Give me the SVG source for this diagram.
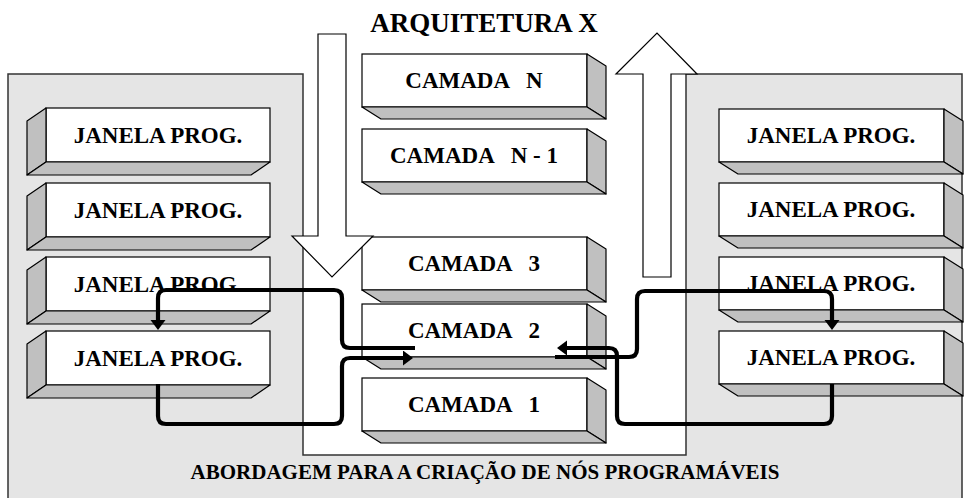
<svg xmlns="http://www.w3.org/2000/svg" xmlns:xlink="http://www.w3.org/1999/xlink" width="972" height="498" viewBox="0 0 972 498">
<style>
.t{font-family:"Liberation Serif","Times New Roman",serif;font-weight:bold;fill:#000;text-anchor:middle;white-space:pre}
.lbl{font-size:23px}
.face{fill:#fff;stroke:#000;stroke-width:1.2}
.shade{fill:#c0c0c0;stroke:#000;stroke-width:1.2;stroke-linejoin:round}
.big{fill:#fff;stroke:#000;stroke-width:1.2}
.con{fill:none;stroke:#000;stroke-width:4.2;stroke-linejoin:round}
</style>
<defs>
<g id="rbox">
<rect class="face" x="0" y="0" width="225" height="53"/>
<path class="shade" d="M225,0 L244,12 L244,65 L225,53 Z"/>
<path class="shade" d="M0,53 L225,53 L244,65 L19,65 Z"/>
</g>
<g id="lbox">
<rect class="face" x="0" y="0" width="224" height="54"/>
<path class="shade" d="M0,0 L-19,13 L-19,67 L0,54 Z"/>
<path class="shade" d="M0,54 L224,54 L205,67 L-19,67 Z"/>
</g>
<marker id="ah" markerUnits="userSpaceOnUse" markerWidth="12" markerHeight="16" refX="4" refY="7.5" orient="auto">
<path d="M0,0 L10,7.5 L0,15 Z" fill="#000"/>
</marker>
</defs>

<g id="background">
<path d="M8,74 H303 V455 H686 V74 H962 V502 H8 Z" fill="#e5e5e5" stroke="#333" stroke-width="1.5"/>
</g>

<g id="title"><text class="t" x="484" y="32" font-size="27">ARQUITETURA X</text></g>

<g id="janela-l1" transform="translate(46,108)"><use xlink:href="#lbox"/><text class="t lbl" x="112" y="34.5">JANELA PROG.</text></g>
<g id="janela-l2" transform="translate(46,183)"><use xlink:href="#lbox"/><text class="t lbl" x="112" y="34.5">JANELA PROG.</text></g>
<g id="janela-l3" transform="translate(46,257)"><use xlink:href="#lbox"/><text class="t lbl" x="112" y="34.5">JANELA PROG.</text></g>
<g id="janela-l4" transform="translate(46,331)"><use xlink:href="#lbox"/><text class="t lbl" x="112" y="34.5">JANELA PROG.</text></g>

<g id="janela-r1" transform="translate(719,109)"><use xlink:href="#rbox"/><text class="t lbl" x="112" y="33.5">JANELA PROG.</text></g>
<g id="janela-r2" transform="translate(719,183)"><use xlink:href="#rbox"/><text class="t lbl" x="112" y="33.5">JANELA PROG.</text></g>
<g id="janela-r3" transform="translate(719,257)"><use xlink:href="#rbox"/><text class="t lbl" x="112" y="33.5">JANELA PROG.</text></g>
<g id="janela-r4" transform="translate(719,331)"><use xlink:href="#rbox"/><text class="t lbl" x="112" y="33.5">JANELA PROG.</text></g>

<g id="camada-n" transform="translate(362,54)"><use xlink:href="#rbox"/><text class="t lbl" x="112" y="33.5">CAMADA   N</text></g>
<g id="camada-n1" transform="translate(362,129)"><use xlink:href="#rbox"/><text class="t lbl" x="112" y="33.5">CAMADA   N - 1</text></g>
<g id="camada-3" transform="translate(362,237)"><use xlink:href="#rbox"/><text class="t lbl" x="112" y="33.5">CAMADA   3</text></g>
<g id="camada-2" transform="translate(362,304)"><use xlink:href="#rbox"/><text class="t lbl" x="112" y="33.5">CAMADA   2</text></g>
<g id="camada-1" transform="translate(362,378)"><use xlink:href="#rbox"/><text class="t lbl" x="112" y="33.5">CAMADA   1</text></g>

<g id="arrow-down"><path class="big" d="M318,34 H346 V236 H373 L332,277 L292,236 H318 Z"/></g>
<g id="arrow-up"><path class="big" d="M643,277 V74 H616 L657,33 L697,74 H671 V277 Z"/></g>

<g id="connectors">
<path class="con" marker-end="url(#ah)" d="M415,348 H350 Q342,348 342,340 V298 Q342,290 334,290 H166 Q158,290 158,298 V324"/>
<path class="con" marker-end="url(#ah)" d="M158,384 V416 Q158,424 166,424 H334 Q342,424 342,416 V366 Q342,358 350,358 H407"/>
<path class="con" marker-end="url(#ah)" d="M555,357 H629 Q637,357 637,349 V299 Q637,291 645,291 H824 Q832,291 832,299 V324"/>
<path class="con" marker-end="url(#ah)" d="M832,384 V416 Q832,424 824,424 H625 Q617,424 617,416 V356 Q617,348 609,348 H563"/>
</g>

<g id="caption"><text class="t" x="485" y="479" font-size="21">ABORDAGEM PARA A CRIAÇÃO DE NÓS PROGRAMÁVEIS</text></g>
</svg>
